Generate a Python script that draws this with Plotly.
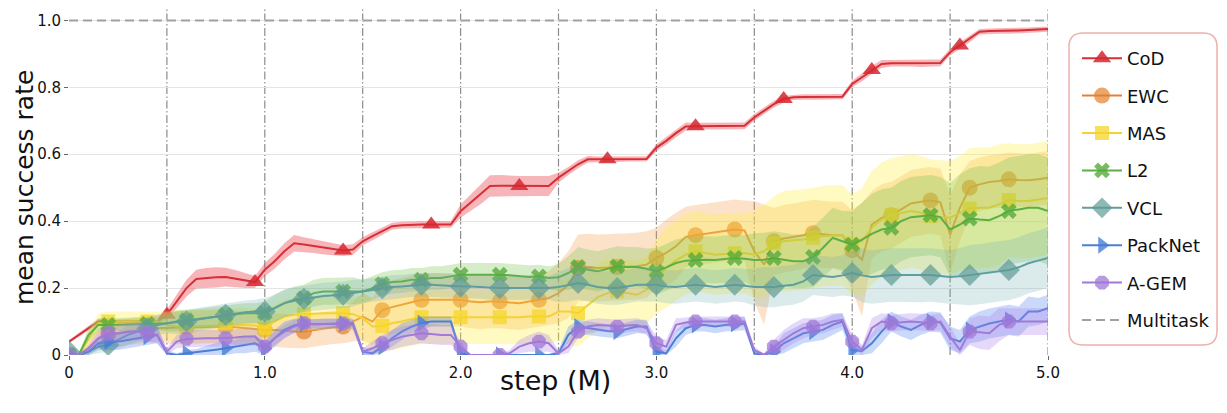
import numpy as np
import plotly.graph_objects as go

# ---------------- data ----------------
steps = np.round(np.arange(101) * 0.05, 2)          # training step (M), 0.05 M grid

cod_mean = [0.04,0.06,0.08,0.10,0.10,0.10,0.10,0.10,0.10,0.10,
            0.12,0.16,0.20,0.227,0.230,0.232,0.233,0.228,0.222,0.218,
            0.255,0.28,0.31,0.334,0.330,0.325,0.320,0.316,0.312,0.315,
            0.340,0.355,0.370,0.385,0.388,0.390,0.390,0.390,0.390,0.390,
            0.430,0.455,0.480,0.505,0.506,0.506,0.505,0.505,0.505,0.505,
            0.530,0.550,0.570,0.585,0.585,0.585,0.585,0.586,0.587,0.586,
            0.620,0.640,0.663,0.683,0.684,0.684,0.684,0.684,0.684,0.685,
            0.710,0.730,0.750,0.765,0.770,0.771,0.771,0.771,0.771,0.772,
            0.810,0.830,0.852,0.870,0.872,0.872,0.872,0.871,0.871,0.873,
            0.905,0.925,0.945,0.966,0.968,0.968,0.968,0.970,0.971,0.972,
            0.974]
cod_hw = [0.005,0.006,0.007,0.008,0.006,0.005,0.005,0.005,0.005,0.006,
          0.015,0.02,0.025,0.028,0.03,0.03,0.028,0.026,0.022,0.018,
          0.02,0.022,0.024,0.025,0.022,0.02,0.02,0.018,0.016,0.016,
          0.012,0.012,0.012,0.01,0.01,0.01,0.01,0.01,0.01,0.01,
          0.02,0.025,0.03,0.032,0.032,0.03,0.03,0.03,0.03,0.03,
          0.015,0.012,0.012,0.01,0.008,0.008,0.008,0.008,0.008,0.008,
          0.01,0.012,0.012,0.012,0.01,0.01,0.01,0.01,0.01,0.01,
          0.01,0.01,0.01,0.01,0.008,0.008,0.008,0.008,0.008,0.008,
          0.01,0.012,0.012,0.012,0.01,0.01,0.01,0.01,0.01,0.01,
          0.01,0.01,0.01,0.008,0.008,0.008,0.008,0.008,0.008,0.008,
          0.008]

ewc_mean = [0.0,0.0,0.02,0.05,0.06,0.065,0.07,0.075,0.078,0.08,
            0.08,0.082,0.083,0.084,0.085,0.085,0.085,0.083,0.08,0.078,
            0.075,0.075,0.072,0.07,0.07,0.075,0.08,0.083,0.085,0.10,
            0.115,0.10,0.134,0.143,0.15,0.158,0.165,0.165,0.165,0.165,
            0.165,0.16,0.158,0.16,0.16,0.157,0.155,0.16,0.165,0.17,
            0.185,0.21,0.26,0.262,0.26,0.262,0.263,0.264,0.265,0.27,
            0.29,0.305,0.325,0.353,0.358,0.362,0.367,0.37,0.375,0.372,
            0.31,0.27,0.34,0.348,0.352,0.358,0.364,0.36,0.358,0.358,
            0.313,0.285,0.39,0.41,0.418,0.435,0.453,0.458,0.462,0.457,
            0.36,0.44,0.50,0.51,0.517,0.52,0.525,0.523,0.522,0.525,
            0.53]
ewc_hw = [0.005,0.005,0.02,0.03,0.035,0.04,0.04,0.04,0.04,0.04,
          0.045,0.05,0.05,0.05,0.05,0.05,0.05,0.05,0.05,0.05,
          0.05,0.05,0.05,0.05,0.05,0.05,0.05,0.05,0.05,0.06,
          0.07,0.07,0.08,0.08,0.08,0.08,0.08,0.08,0.08,0.08,
          0.08,0.08,0.08,0.08,0.08,0.08,0.08,0.08,0.08,0.08,
          0.09,0.1,0.1,0.1,0.1,0.1,0.1,0.1,0.1,0.1,
          0.09,0.1,0.1,0.09,0.09,0.09,0.09,0.09,0.09,0.09,
          0.15,0.18,0.1,0.1,0.1,0.1,0.1,0.1,0.1,0.1,
          0.12,0.17,0.1,0.1,0.1,0.1,0.1,0.1,0.1,0.1,
          0.12,0.1,0.08,0.08,0.08,0.08,0.08,0.08,0.08,0.08,
          0.08]

mas_mean = [0.0,0.0,0.05,0.095,0.10,0.10,0.10,0.10,0.10,0.10,
            0.09,0.085,0.085,0.086,0.087,0.088,0.09,0.09,0.09,0.088,
            0.08,0.10,0.115,0.12,0.122,0.123,0.125,0.125,0.125,0.122,
            0.11,0.085,0.087,0.095,0.10,0.108,0.113,0.113,0.113,0.113,
            0.113,0.113,0.113,0.113,0.113,0.112,0.113,0.115,0.115,0.115,
            0.13,0.13,0.125,0.15,0.173,0.185,0.19,0.185,0.18,0.195,
            0.233,0.26,0.283,0.30,0.31,0.305,0.30,0.302,0.304,0.305,
            0.30,0.31,0.334,0.34,0.343,0.345,0.35,0.355,0.357,0.358,
            0.33,0.34,0.38,0.405,0.418,0.425,0.43,0.425,0.415,0.412,
            0.41,0.425,0.438,0.44,0.44,0.45,0.463,0.46,0.46,0.465,
            0.469]
mas_hw = [0.005,0.005,0.02,0.03,0.03,0.03,0.03,0.03,0.03,0.03,
          0.04,0.05,0.05,0.05,0.05,0.05,0.05,0.05,0.05,0.05,
          0.05,0.05,0.05,0.05,0.05,0.05,0.05,0.05,0.05,0.05,
          0.07,0.08,0.08,0.08,0.08,0.08,0.08,0.08,0.08,0.08,
          0.08,0.08,0.08,0.08,0.08,0.08,0.08,0.08,0.08,0.08,
          0.09,0.1,0.1,0.1,0.1,0.1,0.1,0.1,0.1,0.1,
          0.11,0.12,0.12,0.12,0.12,0.12,0.12,0.12,0.12,0.12,
          0.13,0.14,0.14,0.15,0.15,0.15,0.15,0.15,0.15,0.15,
          0.15,0.16,0.17,0.17,0.17,0.17,0.17,0.17,0.17,0.17,
          0.17,0.17,0.18,0.18,0.18,0.18,0.17,0.17,0.17,0.17,
          0.17]

l2_mean = [0.0,0.0,0.06,0.09,0.09,0.09,0.09,0.092,0.093,0.094,
           0.095,0.10,0.104,0.108,0.11,0.115,0.12,0.122,0.125,0.125,
           0.125,0.14,0.155,0.165,0.17,0.185,0.19,0.19,0.19,0.192,
           0.19,0.20,0.212,0.218,0.22,0.225,0.225,0.23,0.23,0.235,
           0.24,0.24,0.24,0.242,0.24,0.238,0.235,0.233,0.235,0.23,
           0.232,0.245,0.263,0.255,0.25,0.258,0.265,0.263,0.263,0.258,
           0.25,0.262,0.275,0.282,0.284,0.285,0.284,0.286,0.29,0.288,
           0.284,0.285,0.29,0.285,0.28,0.28,0.293,0.32,0.35,0.34,
           0.33,0.345,0.362,0.375,0.38,0.40,0.412,0.415,0.418,0.412,
           0.375,0.39,0.408,0.405,0.403,0.415,0.43,0.435,0.44,0.44,
           0.43]
l2_hw = [0.005,0.005,0.02,0.02,0.02,0.02,0.02,0.02,0.02,0.02,
         0.025,0.03,0.03,0.03,0.03,0.03,0.03,0.03,0.03,0.03,
         0.035,0.04,0.04,0.04,0.04,0.04,0.04,0.04,0.04,0.04,
         0.035,0.035,0.035,0.035,0.035,0.035,0.035,0.035,0.035,0.035,
         0.035,0.035,0.035,0.035,0.035,0.035,0.035,0.035,0.035,0.035,
         0.04,0.05,0.06,0.06,0.06,0.06,0.06,0.06,0.06,0.06,
         0.07,0.07,0.07,0.07,0.07,0.07,0.07,0.07,0.07,0.07,
         0.08,0.08,0.08,0.08,0.08,0.08,0.09,0.09,0.09,0.09,
         0.1,0.11,0.12,0.12,0.12,0.12,0.12,0.12,0.12,0.12,
         0.14,0.15,0.15,0.16,0.16,0.16,0.16,0.16,0.16,0.16,
         0.16]

vcl_mean = [0.01,0.0,0.01,0.025,0.03,0.045,0.06,0.07,0.08,0.09,
            0.095,0.098,0.10,0.105,0.11,0.115,0.12,0.125,0.128,0.13,
            0.13,0.14,0.155,0.162,0.168,0.172,0.176,0.178,0.18,0.185,
            0.19,0.195,0.20,0.203,0.205,0.208,0.21,0.21,0.208,0.206,
            0.205,0.205,0.203,0.20,0.20,0.20,0.20,0.20,0.20,0.20,
            0.203,0.21,0.215,0.21,0.203,0.20,0.20,0.205,0.21,0.21,
            0.21,0.205,0.203,0.207,0.21,0.207,0.203,0.206,0.21,0.207,
            0.203,0.203,0.203,0.207,0.21,0.22,0.239,0.236,0.233,0.238,
            0.245,0.238,0.233,0.236,0.239,0.239,0.239,0.238,0.239,0.236,
            0.233,0.235,0.239,0.242,0.245,0.25,0.254,0.262,0.274,0.282,
            0.29]
vcl_hw = [0.01,0.01,0.015,0.02,0.02,0.025,0.03,0.03,0.03,0.03,
          0.03,0.035,0.035,0.035,0.035,0.035,0.035,0.035,0.035,0.035,
          0.04,0.04,0.04,0.04,0.04,0.04,0.04,0.04,0.04,0.04,
          0.035,0.035,0.035,0.035,0.035,0.035,0.035,0.035,0.035,0.035,
          0.035,0.035,0.035,0.035,0.035,0.035,0.035,0.035,0.035,0.035,
          0.045,0.05,0.05,0.05,0.05,0.05,0.05,0.05,0.05,0.05,
          0.05,0.05,0.05,0.05,0.05,0.05,0.05,0.05,0.05,0.05,
          0.055,0.06,0.06,0.06,0.06,0.06,0.06,0.06,0.06,0.06,
          0.07,0.08,0.08,0.08,0.08,0.08,0.08,0.08,0.08,0.08,
          0.08,0.085,0.09,0.09,0.09,0.09,0.09,0.09,0.09,0.09,
          0.09]

packnet_mean = [0.0,0.0,0.01,0.035,0.04,0.04,0.045,0.05,0.055,0.06,
                0.005,0.0,0.005,0.008,0.012,0.016,0.02,0.025,0.03,0.035,
                0.02,0.05,0.075,0.088,0.094,0.092,0.093,0.094,0.094,0.094,
                0.01,0.005,0.025,0.05,0.07,0.085,0.095,0.10,0.10,0.10,
                0.005,0.0,0.0,0.0,0.0,0.0,0.0,0.0,0.0,0.0,
                0.005,0.06,0.085,0.08,0.075,0.072,0.07,0.078,0.085,0.085,
                0.01,0.005,0.05,0.08,0.09,0.09,0.085,0.09,0.093,0.094,
                0.005,0.0,0.01,0.035,0.05,0.065,0.07,0.075,0.09,0.10,
                0.015,0.012,0.035,0.07,0.10,0.085,0.075,0.09,0.10,0.097,
                0.05,0.04,0.075,0.085,0.094,0.10,0.105,0.10,0.13,0.13,
                0.14]
packnet_hw = [0.0,0.0,0.01,0.02,0.025,0.025,0.025,0.025,0.025,0.025,
              0.01,0.005,0.01,0.01,0.015,0.02,0.02,0.02,0.025,0.025,
              0.02,0.025,0.025,0.02,0.015,0.015,0.015,0.015,0.015,0.015,
              0.015,0.01,0.02,0.025,0.025,0.02,0.02,0.015,0.015,0.015,
              0.01,0.0,0.0,0.0,0.0,0.0,0.0,0.0,0.0,0.0,
              0.01,0.025,0.02,0.02,0.02,0.02,0.02,0.02,0.02,0.02,
              0.02,0.01,0.025,0.02,0.02,0.02,0.02,0.02,0.02,0.02,
              0.01,0.005,0.015,0.03,0.03,0.03,0.03,0.03,0.03,0.025,
              0.02,0.015,0.03,0.035,0.03,0.03,0.03,0.03,0.03,0.03,
              0.035,0.035,0.04,0.045,0.045,0.045,0.045,0.045,0.045,0.04,
              0.04]

agem_mean = [0.0,0.0,0.02,0.05,0.065,0.065,0.07,0.07,0.065,0.06,
             0.01,0.04,0.048,0.05,0.05,0.05,0.05,0.052,0.055,0.055,
             0.025,0.05,0.07,0.085,0.095,0.092,0.093,0.094,0.094,0.09,
             0.01,0.02,0.035,0.045,0.055,0.06,0.065,0.063,0.06,0.06,
             0.025,0.0,0.0,0.0,0.0,0.005,0.025,0.035,0.04,0.035,
             0.005,0.025,0.07,0.085,0.09,0.088,0.085,0.088,0.09,0.08,
             0.035,0.025,0.09,0.097,0.10,0.10,0.10,0.10,0.10,0.10,
             0.015,0.0,0.025,0.045,0.065,0.08,0.085,0.09,0.10,0.105,
             0.04,0.015,0.08,0.10,0.095,0.098,0.10,0.098,0.095,0.10,
             0.055,0.015,0.07,0.068,0.065,0.09,0.10,0.10,0.10,0.10,
             0.10]
agem_hw = [0.0,0.0,0.01,0.02,0.025,0.025,0.025,0.025,0.025,0.025,
           0.01,0.02,0.025,0.025,0.025,0.025,0.025,0.025,0.025,0.025,
           0.015,0.02,0.02,0.02,0.015,0.015,0.015,0.015,0.015,0.015,
           0.01,0.02,0.025,0.03,0.03,0.03,0.03,0.03,0.03,0.03,
           0.015,0.0,0.0,0.0,0.005,0.01,0.02,0.025,0.03,0.025,
           0.01,0.02,0.02,0.02,0.02,0.02,0.02,0.02,0.02,0.02,
           0.02,0.02,0.02,0.015,0.015,0.015,0.015,0.015,0.015,0.015,
           0.01,0.005,0.02,0.03,0.03,0.03,0.025,0.025,0.025,0.02,
           0.02,0.015,0.03,0.025,0.025,0.025,0.025,0.025,0.025,0.025,
           0.03,0.02,0.04,0.05,0.05,0.05,0.04,0.04,0.04,0.04,
           0.04]

multitask_level = 1.0
task_boundaries = [0.5, 1.0, 1.5, 2.0, 2.5, 3.0, 3.5, 4.0, 4.5, 5.0]
cod_marker_steps = [0.5, 0.95, 1.4, 1.85, 2.3, 2.75, 3.2, 3.65, 4.1, 4.55]
base_marker_steps = [0.0, 0.2, 0.4, 0.6, 0.8, 1.0, 1.2, 1.4, 1.6, 1.8, 2.0, 2.2,
                     2.4, 2.6, 2.8, 3.0, 3.2, 3.4, 3.6, 3.8, 4.0, 4.2, 4.4, 4.6, 4.8]

x_ticks = [0, 1, 2, 3, 4, 5]
x_tick_labels = ["0", "1.0", "2.0", "3.0", "4.0", "5.0"]
y_ticks = [0, 0.2, 0.4, 0.6, 0.8, 1.0]
y_tick_labels = ["0", "0.2", "0.4", "0.6", "0.8", "1.0"]

# ---------------- style ----------------
series = [
    ("CoD", cod_mean, cod_hw, "#d62f36", "rgba(235,70,80,0.40)", "rgba(214,39,48,0.85)", "triangle-up", 16, cod_marker_steps),
    ("EWC", ewc_mean, ewc_hw, "#e58036", "rgba(250,160,80,0.30)", "rgba(226,128,46,0.70)", "circle", 16, base_marker_steps),
    ("MAS", mas_mean, mas_hw, "#f2d236", "rgba(255,240,70,0.33)", "rgba(244,214,40,0.75)", "square", 14, base_marker_steps),
    ("L2", l2_mean, l2_hw, "#5caf43", "rgba(120,195,80,0.30)", "rgba(86,170,60,0.80)", "x", 14, base_marker_steps),
    ("VCL", vcl_mean, vcl_hw, "#5f9ea0", "rgba(110,175,175,0.25)", "rgba(95,155,150,0.70)", "diamond", 17, base_marker_steps),
    ("PackNet", packnet_mean, packnet_hw, "#4a7fd6", "rgba(80,130,235,0.30)", "rgba(70,125,215,0.80)", "triangle-right", 15, base_marker_steps),
    ("A-GEM", agem_mean, agem_hw, "#a17ad8", "rgba(175,135,235,0.32)", "rgba(160,120,215,0.75)", "octagon", 15, base_marker_steps),
]

fig = go.Figure()
xs = list(steps)
for name, mean, hw, lc, fc, mc, sym, msz, msteps in series:
    m = np.array(mean)
    h = np.array(hw)
    lo = np.clip(m - h, 0, None)
    hi = m + h
    fig.add_trace(go.Scatter(
        x=xs + xs[::-1], y=list(hi) + list(lo[::-1]),
        fill="toself", fillcolor=fc, line=dict(width=0), mode="lines",
        hoverinfo="skip", showlegend=False))
    fig.add_trace(go.Scatter(
        x=xs, y=list(m), mode="lines", line=dict(color=lc, width=2),
        showlegend=False, name=name))
    idx = [int(round(s / 0.05)) for s in msteps]
    fig.add_trace(go.Scatter(
        x=[steps[i] for i in idx], y=[m[i] for i in idx], mode="markers",
        marker=dict(symbol=sym, size=msz, color=mc, line=dict(width=0)),
        showlegend=False, name=name))
    fig.add_trace(go.Scatter(
        x=[None], y=[None], mode="lines+markers", name=name,
        line=dict(color=lc, width=2),
        marker=dict(symbol=sym, size=msz, color=mc, line=dict(width=0)),
        legendgroup=name, showlegend=True))

fig.add_trace(go.Scatter(
    x=[0, 5], y=[multitask_level, multitask_level], mode="lines",
    line=dict(color="#a0a0a0", width=2, dash="9px,5px"),
    name="Multitask", legendgroup="Multitask", showlegend=True))

# ---------------- layout (page has an 8px body offset) ----------------
W, H, OFF = 1219, 405, 8
L, R, T, B = 61, 1040, 0, 347          # plot area in figure pixels
Y_TOP = (B - T) / 334.6                 # 334.6 px per unit of success rate

def px(xp):   # page x -> paper
    return (xp - OFF - L) / (R - L)

def py(yp):   # page y -> paper
    return (B - (yp - OFF)) / (B - T)

shapes = []
for b in task_boundaries:
    shapes.append(dict(type="line", xref="x", yref="paper", x0=b, x1=b, y0=0, y1=1,
                       line=dict(color="#8c8c8c", width=1.2, dash="8px,2.5px,1.5px,2.5px"),
                       layer="below"))

x0, x1, y0, y1, r = 1069, 1217, 33, 345, 14
path = (f"M {px(x0+r)},{py(y0)} L {px(x1-r)},{py(y0)} Q {px(x1)},{py(y0)} {px(x1)},{py(y0+r)} "
        f"L {px(x1)},{py(y1-r)} Q {px(x1)},{py(y1)} {px(x1-r)},{py(y1)} "
        f"L {px(x0+r)},{py(y1)} Q {px(x0)},{py(y1)} {px(x0)},{py(y1-r)} "
        f"L {px(x0)},{py(y0+r)} Q {px(x0)},{py(y0)} {px(x0+r)},{py(y0)} Z")
shapes.append(dict(type="path", xref="paper", yref="paper", path=path,
                   line=dict(color="#ecb3aa", width=1.5), fillcolor="rgba(255,255,255,0)",
                   layer="above"))

font = "DejaVu Sans"
fig.update_layout(
    width=W, height=H,
    margin=dict(l=L, r=W - R, t=T, b=H - B, autoexpand=False),
    paper_bgcolor="white", plot_bgcolor="white",
    font=dict(family=font, color="#111"),
    shapes=shapes,
    showlegend=True,
    legend=dict(x=px(1077), y=py(40), xanchor="left", yanchor="top",
                font=dict(family=font, size=18, color="#111"),
                bgcolor="rgba(0,0,0,0)", borderwidth=0,
                tracegroupgap=11, itemwidth=40),
    xaxis=dict(range=[0, 5.0], tickvals=x_ticks, ticktext=x_tick_labels,
               showgrid=False, zeroline=False, showline=False,
               ticks="outside", ticklen=4, tickcolor="#666",
               tickfont=dict(family=font, size=15, color="#111")),
    yaxis=dict(range=[0, Y_TOP], tickvals=y_ticks, ticktext=y_tick_labels,
               showgrid=True, gridcolor="#e4e4e4", gridwidth=1,
               zeroline=False, showline=False,
               ticks="outside", ticklen=4, tickcolor="#666",
               tickfont=dict(family=font, size=15, color="#111")),
    annotations=[
        dict(text="mean success rate", xref="paper", yref="paper",
             x=px(24), y=py(188), textangle=-90, showarrow=False,
             xanchor="center", yanchor="middle",
             font=dict(family=font, size=25, color="#111")),
        dict(text="step (M)", xref="paper", yref="paper",
             x=px(555), y=py(380), showarrow=False,
             xanchor="center", yanchor="middle",
             font=dict(family=font, size=27, color="#111")),
    ],
)

fig.write_html("out.html")
